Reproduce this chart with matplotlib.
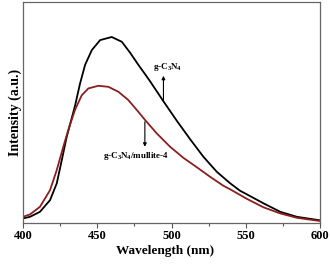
import matplotlib.pyplot as plt
from matplotlib.ticker import MultipleLocator

# values (intensity in arbitrary units)
wl_bare = [400, 404.7, 411.4, 418.2, 422.7, 426.1, 429.4, 430.5, 435.0, 438.4,
           441.8, 446.3, 451.9, 459.7, 466.5, 472.1, 477.6, 482.2, 485.5, 494.5,
           503.5, 512.5, 521.4, 530.4, 539.4, 546.1, 550.6, 561.8, 573.1, 584.3,
           598.9, 600]
int_bare = [4.4, 6, 11, 22.7, 39.4, 62.7, 86, 92, 117, 139.4,
            158, 172.7, 182.7, 185.8, 181, 170, 158, 148.5, 141.5, 121.5,
            102, 83.5, 66, 51, 39.5, 32, 28.5, 19.5, 11, 6,
            2.7, 2.5]

wl_mull = [400, 404.7, 411.4, 418.2, 422.7, 427.1, 430.5, 435.0, 439.5, 444.0,
           450.7, 457.4, 464.2, 470.9, 477.6, 482.2, 490.0, 499.0, 507.9, 517.0,
           525.9, 534.9, 539.4, 550.6, 561.8, 573.1, 584.3, 598.9, 600]
int_mull = [6, 8.4, 16, 32.7, 52.7, 76, 93, 113, 127.5, 134.4,
            137, 136, 131, 122.7, 111, 102.7, 89.4, 76, 65, 55.5,
            46, 37, 33.5, 24, 15.5, 9.4, 5, 2, 1.8]

labels = ['g-C$_3$N$_4$', 'g-C$_3$N$_4$/mullite-4']

plt.rcParams['font.family'] = ['Liberation Serif', 'DejaVu Serif']
plt.rcParams['mathtext.fontset'] = 'custom'
plt.rcParams['mathtext.rm'] = 'Liberation Serif:bold'
plt.rcParams['mathtext.it'] = 'Liberation Serif:bold'

fig = plt.figure(figsize=(3.31, 2.64), dpi=100)
ax = fig.add_axes([0.0695, 0.156, 0.898, 0.838])

ax.plot(wl_bare, int_bare, color='black', lw=1.3, solid_joinstyle='round')
ax.plot(wl_mull, int_mull, color='#8b1e1e', lw=1.3, solid_joinstyle='round')

ax.annotate('', xy=(494.5, 147), xytext=(494.5, 121),
            arrowprops=dict(arrowstyle='-|>', color='black', lw=0.8,
                            mutation_scale=5, shrinkA=0, shrinkB=0))
ax.text(497, 150, labels[0], fontsize=6.5, fontweight='bold', ha='center', va='bottom')

ax.annotate('', xy=(482, 76), xytext=(482, 101),
            arrowprops=dict(arrowstyle='-|>', color='black', lw=0.8,
                            mutation_scale=5, shrinkA=0, shrinkB=0))
ax.text(476, 67, labels[1], fontsize=6.5, fontweight='bold', ha='center', va='center')

ax.set_xlim(400, 600)
ax.set_ylim(0, 221.2)
ax.xaxis.set_major_locator(MultipleLocator(50))
ax.xaxis.set_minor_locator(MultipleLocator(25))
ax.set_yticks([])
ax.tick_params(axis='x', which='major', direction='out', length=3.5, width=0.8,
               color='#555555', labelsize=9, pad=1.5)
ax.tick_params(axis='x', which='minor', direction='out', length=2.5, width=0.8,
               color='#555555')
for lab in ax.get_xticklabels():
    lab.set_fontweight('bold')
for sp in ax.spines.values():
    sp.set_color('#666666')
    sp.set_linewidth(0.9)

ax.set_xlabel('Wavelength (nm)', fontsize=9.5, fontweight='bold')
ax.xaxis.set_label_coords(0.478, -0.1)
ax.set_ylabel('Intensity (a.u.)', fontsize=10, fontweight='bold', labelpad=1)

fig.savefig('out.png', dpi=100)
